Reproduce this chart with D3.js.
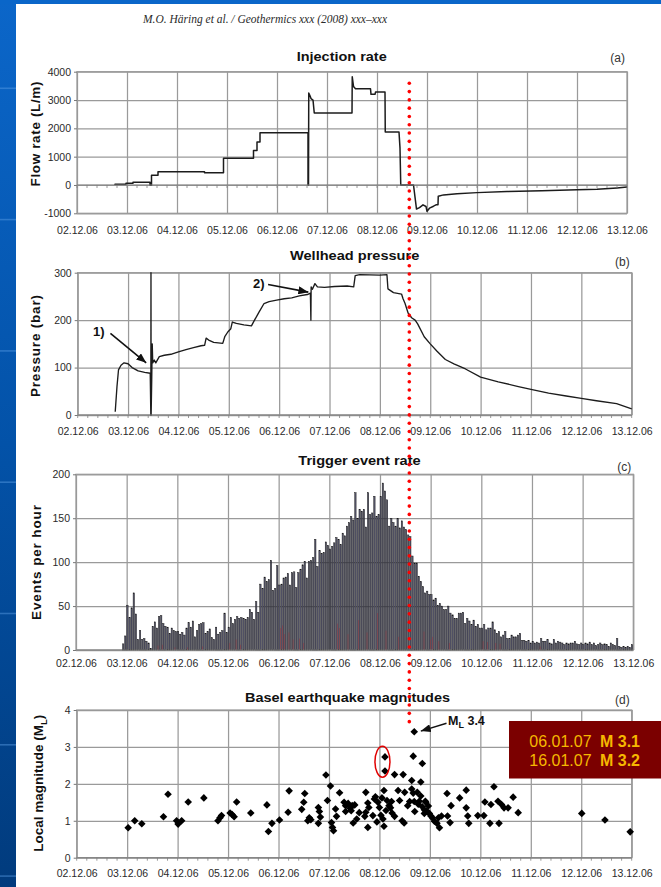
<!DOCTYPE html>
<html>
<head>
<meta charset="utf-8">
<script src="https://cdn.jsdelivr.net/npm/d3@7"></script>
<style>
  html, body { margin: 0; padding: 0; background: #fff; }
  svg { display: block; }
</style>
</head>
<body>
<svg id="fig" width="661" height="887"></svg>
<script>
// ---------------- data ----------------
// day labels on every time axis (02.12.06 ... 13.12.06)
const dayTickLabels = ["02.12.06","03.12.06","04.12.06","05.12.06","06.12.06","07.12.06",
                       "08.12.06","09.12.06","10.12.06","11.12.06","12.12.06","13.12.06"];

// (a) injection rate, time in days after 02.12.06 00:00, rate in L/min
const flowDay  = [0.76,0.76,0.98,0.98,1.12,1.12,1.46,1.46,1.49,1.49,1.62,1.62,2.55,2.55,2.93,2.93,
                  3.53,3.53,3.60,3.60,3.66,3.66,4.62,4.62,4.63,4.635,4.66,4.68,4.72,4.745,5.50,5.505,
                  5.53,5.57,5.87,5.88,5.96,5.97,6.16,6.165,6.44,6.46,6.475,6.73,6.79,6.85,6.92,6.98,
                  7.00,7.05,7.13,7.18,7.22,7.225,7.33,7.60,8.00,8.60,9.30,10.00,10.40,10.80,11.00];
const flowRate = [0,30,30,60,60,100,100,0,0,340,340,470,470,430,430,940,
                  940,1220,1220,1520,1520,1840,1840,0,0,3250,3150,3050,3000,2540,2540,3820,
                  3480,3400,3400,3200,3200,3280,3280,1870,1870,1300,0,0,-850,-800,-700,-760,
                  -930,-820,-750,-700,-700,-400,-350,-310,-270,-230,-200,-170,-150,-105,-75];

// (b) wellhead pressure, days after 02.12.06 00:00, bar
const pressureDay = [0.745,0.78,0.81,0.86,0.92,1.0,1.08,1.2,1.33,1.44,1.452,1.455,1.458,1.47,1.48,1.49,
                     1.52,1.55,1.62,1.72,1.85,2.0,2.15,2.3,2.45,2.52,2.55,2.6,2.7,2.88,2.92,2.98,
                     3.04,3.07,3.15,3.3,3.45,3.5,3.6,3.7,3.8,3.95,4.1,4.25,4.4,4.56,4.62,4.63,
                     4.635,4.66,4.71,4.76,4.9,5.1,5.35,5.48,5.51,5.6,6.0,6.14,6.16,6.27,
                     6.43,6.46,6.5,6.56,6.63,6.7,6.75,6.88,7.0,7.13,7.3,7.47,7.7,8.0,
                     8.35,8.75,9.0,9.35,9.7,10.0,10.3,10.7,11.0];
const pressureBar = [7,60,95,105,110,108,100,93,90,88,0,300,0,75,150,110,
                     116,110,123,126,128,133,138,142,146,147,162,158,153,151,165,175,
                     182,196,193,190,188,198,217,235,239,242,245,247,251,254,257,200,
                     270,265,277,270,269,271,272,270,294,296,295,296,266,258,
                     255,245,235,215,205,200,192,165,150,135,117,108,97,80,
                     70,60,54,46,40,35,30,24,13];

// (c) trigger events per hour, first bin starts 02.12.06 22:00
const eventsStartHour = 22;
const eventsPerHour = [
  7, 16,
  51,37,48,65,41,12,22,12,13,10,8,2,27,32,25,38,39,30,27,26,19,25,22,21,          // 03.12
  21,18,20,17,25,31,26,33,15,22,29,30,31,19,21,24,14,12,26,18,20,22,42,20,        // 04.12
  26,37,30,35,38,36,37,36,35,37,46,43,35,55,43,75,70,83,78,80,102,68,70,96,       // 05.12
  74,75,82,83,87,74,88,89,71,88,92,97,101,82,101,102,105,126,95,113,110,111,123,119, // 06.12
  115,118,122,128,126,120,133,130,141,145,152,148,179,150,160,158,160,140,179,154,156,175,152,154, // 07.12
  175,190,181,171,141,150,145,141,150,139,147,140,137,131,129,107,99,99,84,78,72,65,67,63, // 08.12
  63,57,59,51,53,50,46,46,50,42,40,36,36,42,42,43,30,36,33,29,34,27,29,25,        // 09.12
  25,29,23,25,25,32,23,19,21,15,17,21,13,13,17,15,15,17,19,11,11,10,11,8,         // 10.12
  10,8,9,8,13,10,10,12,8,7,12,8,10,9,8,6,8,7,8,8,10,7,6,8,                        // 11.12
  6,8,7,9,6,8,5,6,8,6,7,6,4,8,6,5,13,4,3,4,3,4,3,6                                // 12.12
];
// located events per hour (hours after 02.12.06 00:00, count)
const locatedHour  = [38,40,46,52,59,72,75,77,96,97,98,100,102,105,107,123,124,128,133,137,142,
                      146,152,164,167,168,171,176,192,194,198,200,219];
const locatedCount = [5,6,3,3,4,8,12,6,25,28,18,20,12,13,8,30,25,18,34,20,42,
                      22,15,21,12,15,10,8,10,9,8,7,4];

// (d) earthquake magnitudes, days after 02.12.06 00:00, ML
const quakeDay = [1.02,1.15,1.29,1.72,1.81,1.98,2.01,2.08,2.21,2.52,2.80,2.84,2.87,3.04,3.08,3.12,3.17,
  3.45,3.77,3.80,3.87,4.02,4.19,4.21,4.46,4.50,4.52,4.58,4.61,4.64,4.79,4.81,4.79,4.83,4.94,4.97,
  5.03,5.05,5.07,5.09,5.13,5.15,5.21,5.30,5.33,5.38,5.42,5.46,5.44,5.51,5.33,5.48,5.55,5.60,
  5.73,5.77,5.79,5.73,5.71,5.77,5.87,5.90,5.92,5.97,5.95,6.00,6.03,6.07,6.09,6.09,6.11,6.11,
  6.05,6.13,6.15,6.19,6.22,6.24,6.25,6.30,6.30,6.47,6.37,6.40,6.45,6.49,6.50,6.56,6.64,6.67,
  6.82,6.85,6.64,6.67,6.60,6.70,6.69,6.77,6.85,6.89,6.92,6.69,6.75,6.82,6.79,6.91,6.97,6.94,
  6.89,6.99,7.02,7.05,7.09,7.14,7.19,7.17,7.23,7.34,7.35,7.40,7.42,7.59,7.72,7.72,7.75,7.77,
  7.95,8.07,8.09,8.19,8.21,8.27,8.35,8.37,8.42,8.47,8.55,8.65,8.75,10.01,10.47,10.97];
const quakeMag = [0.81,1.00,0.92,1.11,1.72,1.00,0.91,1.00,1.51,1.62,1.00,1.08,1.14,1.21,1.17,1.11,1.51,
  1.21,1.43,0.71,0.93,1.02,1.23,1.81,1.31,1.50,1.74,1.00,1.08,1.03,1.36,1.25,0.93,1.10,2.24,1.55,
  1.94,0.95,0.82,0.73,1.32,1.12,1.76,1.50,1.41,1.47,1.34,1.41,1.27,1.43,1.25,0.94,1.05,1.22,
  1.77,1.48,1.36,1.23,1.12,0.82,1.14,1.59,1.65,1.50,0.97,1.36,1.15,1.05,0.85,1.82,2.73,2.35,
  1.62,1.28,1.55,1.41,1.35,1.52,1.21,1.12,2.25,2.25,1.82,1.55,1.00,0.94,1.77,1.41,2.09,2.75,
  2.05,2.55,1.86,1.75,1.52,1.25,1.52,1.45,1.38,1.30,1.50,3.41,1.77,1.67,1.53,1.53,1.40,1.26,
  1.20,1.20,1.13,1.08,0.99,0.93,0.81,1.08,1.13,1.74,1.13,0.95,1.41,1.62,1.83,1.35,1.13,0.93,
  1.14,1.14,1.51,0.93,1.44,1.92,1.53,0.93,1.44,1.35,1.35,1.64,1.22,1.20,1.02,0.70];

// later felt events listed in the box
const feltDates = ["06.01.07", "16.01.07"];
const feltMags  = ["M 3.1", "M 3.2"];

// axis ticks
const flowTicks = [-1000, 0, 1000, 2000, 3000, 4000];
const pressureTicks = [0, 100, 200, 300];
const rateTicks = [0, 50, 100, 150, 200];
const magTicks = [0, 1, 2, 3, 4];

// shut-in time marked by the red dotted line (days after 02.12.06)
const shutInDay = 6.646;

// ---------------- drawing ----------------
const svg = d3.select("#fig");
const W = 661, H = 887;
const FONT = "'Liberation Sans', Arial, Helvetica, sans-serif";
const GRID = "#9a9a9a";
const INK = "#1c1c1c";
const LABEL = "#2a2a2a";

const t0 = new Date(2006, 11, 2);
const toDate = d => new Date(t0.getTime() + d * 864e5);
const dayTicks = d3.range(dayTickLabels.length).map(i => toDate(i));

// slide background: blue top band and left strip
const defs = svg.append("defs");
const grad = defs.append("linearGradient").attr("id", "strip").attr("x1", 0).attr("y1", 0).attr("x2", 0).attr("y2", 1);
grad.append("stop").attr("offset", "0%").attr("stop-color", "#0b66c9");
grad.append("stop").attr("offset", "50%").attr("stop-color", "#0352a8");
grad.append("stop").attr("offset", "100%").attr("stop-color", "#013b7d");
svg.append("rect").attr("width", W).attr("height", H).attr("fill", "#fff");
svg.append("rect").attr("x", 0).attr("y", 0).attr("width", 16).attr("height", H).attr("fill", "url(#strip)");
svg.append("rect").attr("x", 0).attr("y", 0).attr("width", W).attr("height", 4).attr("fill", "#0a66c9");
d3.range(7).forEach(k => {
  svg.append("rect").attr("x", 0).attr("y", 87.5 + k * 131.3).attr("width", 16).attr("height", 1.6)
    .attr("fill", "#5ea0e6").attr("opacity", 0.45);
});

// journal header line
svg.append("text")
  .attr("x", 143).attr("y", 22.5)
  .attr("textLength", 244).attr("lengthAdjust", "spacingAndGlyphs")
  .attr("font-family", "'Liberation Serif', 'Times New Roman', serif")
  .attr("font-style", "italic").attr("font-size", 12.5).attr("fill", "#2a2a2a")
  .text("M.O. Häring et al. / Geothermics xxx (2008) xxx–xxx");

// arrow marker
defs.append("marker").attr("id", "arrow")
  .attr("viewBox", "0 0 10 8").attr("refX", 10).attr("refY", 4)
  .attr("markerWidth", 10).attr("markerHeight", 8).attr("markerUnits", "userSpaceOnUse")
  .attr("orient", "auto")
  .append("path").attr("d", "M0,0L10,4L0,8Z").attr("fill", "#111");

function drawPanel(p) {
  const x = d3.scaleTime().domain([toDate(0), toDate(11)]).range([p.left, p.right]);
  const y = d3.scaleLinear().domain(p.yDomain).range([p.bottom, p.top]);
  const w = p.right - p.left, h = p.bottom - p.top;
  const g = svg.append("g");

  const gy = g.append("g").attr("transform", `translate(${p.left},0)`)
    .call(d3.axisLeft(y).tickValues(p.yTicks).tickSize(-w).tickFormat(() => ""));
  gy.select(".domain").remove();
  gy.selectAll("line").attr("stroke", GRID).attr("stroke-width", 1.25);

  const gx = g.append("g").attr("transform", `translate(0,${p.bottom})`)
    .call(d3.axisBottom(x).tickValues(dayTicks).tickSize(-h).tickFormat(() => ""));
  gx.select(".domain").remove();
  gx.selectAll("line").attr("stroke", GRID).attr("stroke-width", 1.25);

  g.append("rect").attr("x", p.left).attr("y", p.top).attr("width", w).attr("height", h)
    .attr("fill", "none").attr("stroke", GRID).attr("stroke-width", 1.25);

  const data = g.append("g");
  const over = g.append("g");

  // y tick labels
  const ly = over.append("g").attr("transform", `translate(${p.left},0)`)
    .call(d3.axisLeft(y).tickValues(p.yTicks).tickSize(3).tickPadding(3).tickFormat(d => String(d)));
  ly.select(".domain").remove();
  ly.selectAll("line").attr("stroke", "#777");
  ly.attr("font-family", FONT).attr("font-size", 10.5);
  ly.selectAll("text").attr("fill", LABEL);

  // day labels
  const lx = over.append("g").attr("transform", `translate(0,${p.bottom})`)
    .call(d3.axisBottom(x).tickValues(dayTicks).tickSize(0).tickPadding(p.pad).tickFormat((d, i) => dayTickLabels[i]));
  lx.select(".domain").remove();
  lx.attr("font-family", FONT).attr("font-size", 10.5);
  lx.selectAll("text").attr("fill", LABEL);

  // time axis line with minor ticks (every 0.2 day)
  if (p.minor) {
    const y0 = y(Math.max(0, p.yDomain[0]));
    over.append("line").attr("x1", p.left).attr("x2", p.right).attr("y1", y0).attr("y2", y0)
      .attr("stroke", "#808080").attr("stroke-width", 1.1);
    over.selectAll(".minor").data(d3.range(0, 11.001, 0.2)).join("line")
      .attr("x1", d => x(toDate(d))).attr("x2", d => x(toDate(d)))
      .attr("y1", y0).attr("y2", y0 + 3).attr("stroke", "#808080").attr("stroke-width", 0.8);
  }

  // panel title and letter
  over.append("text").attr("x", p.titleX).attr("y", p.titleY)
    .attr("textLength", p.titleW).attr("lengthAdjust", "spacingAndGlyphs")
    .attr("font-family", FONT).attr("font-weight", "bold").attr("font-size", 13.5).attr("fill", "#111")
    .text(p.title);
  over.append("text").attr("x", p.right - 2).attr("y", p.letterY).attr("text-anchor", "end")
    .attr("font-family", FONT).attr("font-size", 12).attr("fill", "#333").text(p.letter);

  // y axis title
  const yt = over.append("text")
    .attr("transform", `translate(${p.ytX},${p.ytY}) rotate(-90)`)
    .attr("text-anchor", "middle")
    .attr("font-family", FONT).attr("font-weight", "bold").attr("font-size", 13.5).attr("fill", "#111");
  p.yTitle(yt);

  return { x, y, data, over };
}

// ---- (a) Injection rate ----
const A = drawPanel({
  left: 77, right: 627, top: 71.7, bottom: 213.3, yDomain: [-1000, 4000], yTicks: flowTicks,
  pad: 13.2, minor: true,
  title: "Injection rate", titleX: 296.7, titleY: 60.5, titleW: 90, letter: "(a)", letterY: 62,
  ytX: 39.5, ytY: 134, yTitle: t => t.attr("textLength", 105).text("Flow rate (L/m)")
});
A.data.append("path")
  .datum(d3.zip(flowDay, flowRate))
  .attr("fill", "none").attr("stroke", INK).attr("stroke-width", 1.5).attr("stroke-linejoin", "round")
  .attr("d", d3.line().x(d => A.x(toDate(d[0]))).y(d => A.y(d[1])));

// ---- (b) Wellhead pressure ----
const B = drawPanel({
  left: 77.7, right: 631.7, top: 272.7, bottom: 415, yDomain: [0, 300], yTicks: pressureTicks,
  pad: 13, minor: true,
  title: "Wellhead pressure", titleX: 290, titleY: 259.5, titleW: 129.3, letter: "(b)", letterY: 266,
  ytX: 40, ytY: 346, yTitle: t => t.attr("textLength", 102).text("Pressure (bar)")
});
B.data.append("path")
  .datum(d3.zip(pressureDay, pressureBar))
  .attr("fill", "none").attr("stroke", INK).attr("stroke-width", 1.35).attr("stroke-linejoin", "round")
  .attr("d", d3.line().x(d => B.x(toDate(d[0]))).y(d => B.y(d[1])));

// annotations 1) and 2)
function note(P, label, lx, ly, fromD, fromV, toD, toV) {
  P.over.append("text").attr("x", lx).attr("y", ly)
    .attr("font-family", FONT).attr("font-weight", "bold").attr("font-size", 13).attr("fill", "#111").text(label);
  P.over.append("line")
    .attr("x1", P.x(toDate(fromD))).attr("y1", P.y(fromV))
    .attr("x2", P.x(toDate(toD))).attr("y2", P.y(toV))
    .attr("stroke", "#111").attr("stroke-width", 1.6).attr("marker-end", "url(#arrow)");
}
note(B, "1)", 93, 336, 0.65, 172, 1.36, 110);
note(B, "2)", 253, 288, 3.78, 275, 4.58, 259);

// ---- (c) Trigger event rate ----
const C = drawPanel({
  left: 76, right: 633.3, top: 474.3, bottom: 650, yDomain: [0, 200], yTicks: rateTicks,
  pad: 9.3, minor: false,
  title: "Trigger event rate", titleX: 298.3, titleY: 464.5, titleW: 122.4, letter: "(c)", letterY: 471,
  ytX: 40.5, ytY: 562.5, yTitle: t => t.attr("textLength", 115).text("Events per hour")
});
const hourW = C.x(toDate(1 / 24)) - C.x(toDate(0));
C.data.selectAll(".ev").data(eventsPerHour).join("rect")
  .attr("x", (d, i) => C.x(toDate((eventsStartHour + i) / 24)) + 0.1)
  .attr("width", hourW * 0.64)
  .attr("y", d => C.y(d))
  .attr("height", d => C.y(0) - C.y(d))
  .attr("fill", "#58586e").attr("stroke", "#111").attr("stroke-width", 0.45);
C.data.selectAll(".loc").data(d3.zip(locatedHour, locatedCount)).join("rect")
  .attr("x", d => C.x(toDate(d[0] / 24)) + hourW * 0.64 + 0.1)
  .attr("width", hourW * 0.34)
  .attr("y", d => C.y(d[1]))
  .attr("height", d => C.y(0) - C.y(d[1]))
  .attr("fill", "#8e3c44").attr("opacity", 0.85);
C.data.append("line").attr("x1", C.x(toDate(0))).attr("x2", C.x(toDate(11)))
  .attr("y1", C.y(0)).attr("y2", C.y(0)).attr("stroke", "#808080").attr("stroke-width", 1.1);

// ---- (d) Basel earthquake magnitudes ----
const D = drawPanel({
  left: 76.7, right: 631.7, top: 710, bottom: 857.7, yDomain: [0, 4], yTicks: magTicks,
  pad: 11.6, minor: true,
  title: "Basel earthquake magnitudes", titleX: 245, titleY: 701.5, titleW: 205, letter: "(d)", letterY: 704,
  ytX: 43, ytY: 783.3, yTitle: t => {
    t.append("tspan").text("Local magnitude (M");
    t.append("tspan").attr("font-size", 9.5).attr("dy", 3.5).text("L");
    t.append("tspan").attr("dy", -3.5).text(")");
  }
});
D.data.selectAll(".eq").data(d3.zip(quakeDay, quakeMag)).join("path")
  .attr("transform", d => `translate(${D.x(toDate(d[0]))},${D.y(d[1])})`)
  .attr("d", "M0,-3.8L3.8,0L0,3.8L-3.8,0Z")
  .attr("fill", "#000");

// circled pair of events on 08.12
D.over.append("ellipse")
  .attr("cx", D.x(toDate(6.06))).attr("cy", D.y(2.6))
  .attr("rx", 7.5).attr("ry", 15.5)
  .attr("fill", "none").attr("stroke", "#e00000").attr("stroke-width", 1.5);

// ML 3.4 label with arrow
const ml = D.over.append("text").attr("x", D.x(toDate(7.36))).attr("y", D.y(3.59))
  .attr("font-family", FONT).attr("font-weight", "bold").attr("font-size", 12.5).attr("fill", "#111");
ml.append("tspan").text("M");
ml.append("tspan").attr("font-size", 9).attr("dy", 3).text("L");
ml.append("tspan").attr("dy", -3).text(" 3.4");
D.over.append("line")
  .attr("x1", D.x(toDate(7.33))).attr("y1", D.y(3.64))
  .attr("x2", D.x(toDate(6.82))).attr("y2", D.y(3.43))
  .attr("stroke", "#111").attr("stroke-width", 1.4).attr("marker-end", "url(#arrow)");

// box with later felt events
const box = svg.append("g");
box.append("rect").attr("x", 509).attr("y", 721).attr("width", W - 509).attr("height", 57.5).attr("fill", "#7b0000");
feltDates.forEach((dt, i) => {
  box.append("text").attr("x", 529.3).attr("y", 746.5 + i * 19)
    .attr("font-family", FONT).attr("font-size", 16).attr("fill", "#f5b800").text(dt);
  box.append("text").attr("x", 600).attr("y", 746.5 + i * 19)
    .attr("font-family", FONT).attr("font-weight", "bold").attr("font-size", 16).attr("fill", "#f5b800").text(feltMags[i]);
});

// red dotted line at shut-in, across all panels
const xShut = A.x(toDate(shutInDay));
svg.append("g").selectAll("circle").data(d3.range(0, 78)).join("circle")
  .attr("cx", xShut).attr("cy", k => 83.3 + k * 8.29).attr("r", 1.8).attr("fill", "#ff0000");
</script>
</body>
</html>
